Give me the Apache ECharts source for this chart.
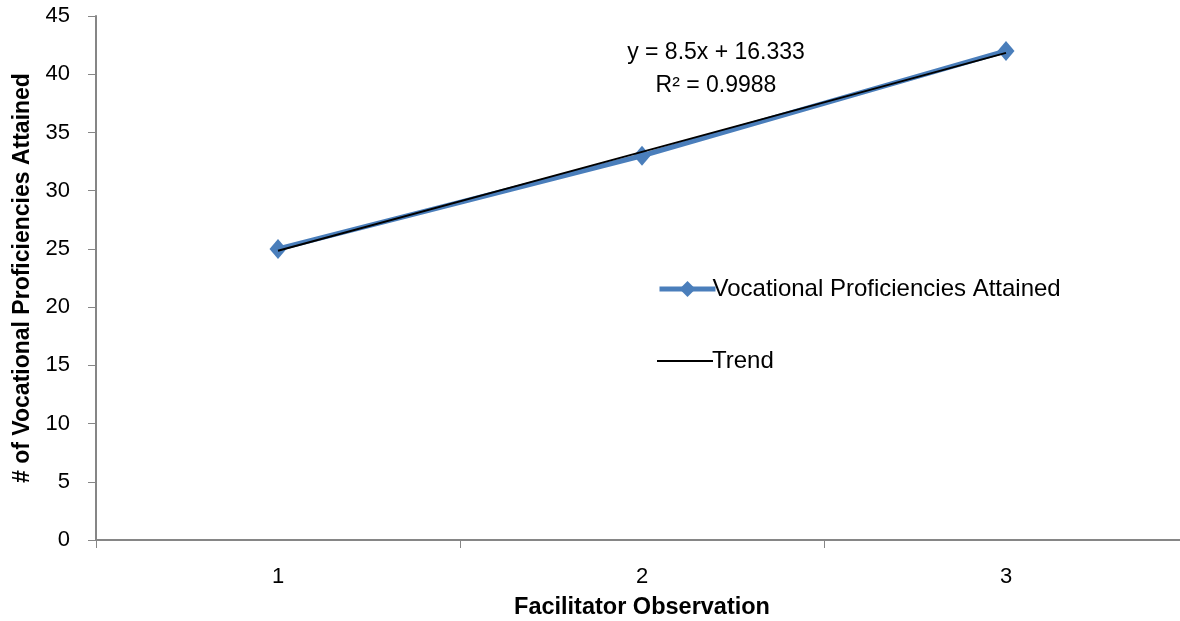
<!DOCTYPE html>
<html><head><meta charset="utf-8">
<script src="https://cdn.jsdelivr.net/npm/echarts@6/dist/echarts.min.js"></script>
<style>html,body{margin:0;padding:0;background:#fff;overflow:hidden}#c{width:1180px;height:621px}</style>
</head><body><div id="c"></div>
<script>
const categories = ['1', '2', '3'];
const attained = [25, 33, 42];
const trend = [24.833, 33.333, 41.833];
const eqLines = ['y = 8.5x + 16.333', 'R² = 0.9988'];
const FONT = "'Liberation Sans', sans-serif";
const chart = echarts.init(document.getElementById('c'));
chart.setOption({
  animation: false,
  textStyle: { fontFamily: FONT },
  grid: { left: 96, right: -8, top: 16, bottom: 81, containLabel: false, outerBoundsMode: 'none' },
  xAxis: {
    type: 'category', data: categories, boundaryGap: true,
    axisLine: { lineStyle: { color: '#868686', width: 2 } },
    axisTick: { show: true, length: 8, alignWithLabel: false, lineStyle: { color: '#868686', width: 1 } },
    axisLabel: { color: '#000', fontSize: 22, margin: 26, fontFamily: FONT },
    name: 'Facilitator Observation', nameLocation: 'middle', nameGap: 56,
    nameTextStyle: { color: '#000', fontSize: 23.5, fontWeight: 'bold', fontFamily: FONT }
  },
  yAxis: {
    type: 'value', min: 0, max: 45, interval: 5,
    axisLine: { show: true, lineStyle: { color: '#868686', width: 2 } },
    axisTick: { show: true, length: 8, lineStyle: { color: '#868686', width: 1 } },
    splitLine: { show: false },
    axisLabel: { color: '#000', fontSize: 22, margin: 26, fontFamily: FONT },
    name: '# of Vocational Proficiencies Attained', nameLocation: 'middle', nameGap: 62, nameRotate: 90,
    nameTextStyle: { color: '#000', fontSize: 23, fontWeight: 'bold', fontFamily: FONT }
  },
  legend: [{
    orient: 'vertical', left: 652, top: 272, itemWidth: 56, itemHeight: 20,
    data: [{ name: 'Vocational Proficiencies Attained', lineStyle: { width: 5 } }],
    textStyle: { color: '#000', fontSize: 24, fontFamily: FONT, padding: [0, 0, 0, -8] }
  }, {
    orient: 'vertical', left: 652, top: 344, itemWidth: 56, itemHeight: 20,
    icon: 'path://M0,9L56,9L56,11L0,11Z',
    data: ['Trend'],
    textStyle: { color: '#000', fontSize: 24, fontFamily: FONT, padding: [0, 0, 0, -6] }
  }],
  series: [{
    name: 'Vocational Proficiencies Attained', type: 'line', data: attained,
    symbol: 'diamond', symbolSize: [17, 20], showSymbol: true,
    lineStyle: { color: '#4a7ebb', width: 5 }, itemStyle: { color: '#4a7ebb' },
    z: 2
  }, {
    name: 'Trend', type: 'line', data: trend, symbol: 'none',
    lineStyle: { color: '#000', width: 2 }, itemStyle: { color: '#000' }, z: 3
  }],
  graphic: [{
    type: 'text', x: 716, y: 53,
    style: { text: eqLines[0], fill: '#000', font: "23px " + FONT, align: 'center', verticalAlign: 'middle' }
  }, {
    type: 'text', x: 716, y: 86,
    style: { text: eqLines[1], fill: '#000', font: "23px " + FONT, align: 'center', verticalAlign: 'middle' }
  }]
});
</script></body></html>
